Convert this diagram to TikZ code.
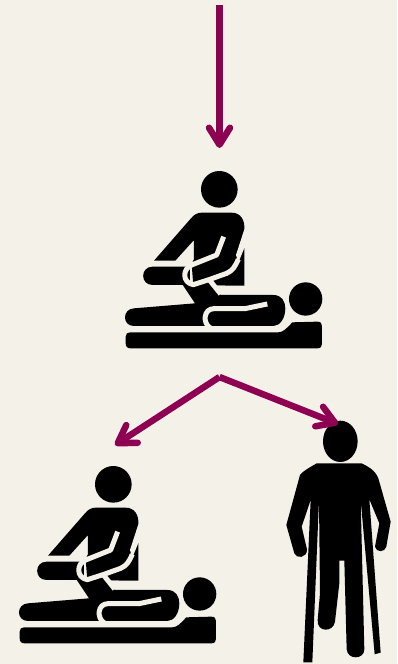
\documentclass[tikz,border=0pt]{standalone}
\usetikzlibrary{arrows.meta}
\definecolor{bgcol}{HTML}{F4F1E9}
\definecolor{arrowcol}{HTML}{8E0152}
\tikzset{
  flow/.style={draw=arrowcol,line width=6.5pt,line join=round,-{Straight Barb[length=17pt,width=21pt,line width=6.5pt,round]}},
  ink/.style={fill=black,draw=none},
  gap/.style={draw=bgcol,line width=5pt,line join=round},
  therapist/.pic={
    \begin{scope}[x=0.3333pt,y=-0.3333pt]
      % head
      \fill (328,88) circle[radius=55];
      % therapist body with the notch under the left arm
      \path[ink] (132,302) -- (243,175) .. controls (252,164) and (262,158) .. (275,158)
        -- (365,158) .. controls (392,158) and (405,180) .. (403,208)
        -- (403,377) -- (250,377) -- (245,312) -- (252,297) -- (252,240) -- (196,302) -- cycle;
      % space between the upper arm and the block behind it
      \path[fill=bgcol] (403,208) -- (378,285) -- (385,308) -- (403,264) -- (410,264) -- (410,208) -- cycle;
      % forearm bar
      \path[ink] (128,320) -- (240,320) -- (240,375) -- (128,375)
        .. controls (90,375) and (90,320) .. (128,320) -- cycle;
      % patient
      \path[ink] (72,445) -- (255,430) -- (215,370) -- (300,365) -- (332,405) -- (490,405)
        .. controls (516,405) and (526,425) .. (526,445)
        .. controls (526,475) and (510,498) .. (490,498) -- (72,498)
        .. controls (36,498) and (36,447) .. (72,445) -- cycle;
      % gap round the therapist forearm
      \draw[gap] (341,230) -- (320,285) -- (245,315) .. controls (218,325) and (215,368) .. (250,374)
        -- (300,358) -- (350,340) .. controls (368,332) and (375,320) .. (385,298);
      \draw[gap] (300,362) -- (332,402);
      \path[fill=bgcol] (305,368) -- (318,377) -- (345,377) -- (345,402) -- (332,402) -- cycle;
      % gap round the patient leg
      \draw[gap] (472,432) -- (405,446) -- (312,446) .. controls (280,446) and (278,490) .. (300,503);
      % table
      \path[ink] (60,517) -- (505,517) .. controls (520,517) and (530,505) .. (547,487)
        -- (622,485) .. controls (632,485) and (636,490) .. (636,498)
        -- (636,552) .. controls (636,560) and (632,565) .. (622,565)
        -- (62,565) .. controls (52,565) and (47,560) .. (47,550)
        -- (47,530) .. controls (47,522) and (52,517) .. (60,517) -- cycle;
      % patient head
      \fill (587,417) circle[radius=50];
    \end{scope}
  },
  crutchman/.pic={
    \begin{scope}[x=0.3333pt,y=-0.3333pt]
      \fill (211,94) ellipse[x radius=52,y radius=62];
      \path[ink] (140,160) -- (275,160) .. controls (295,170) and (315,180) .. (325,205)
        -- (362,335) -- (349,410) .. controls (345,428) and (318,428) .. (315,410)
        -- (328,340) -- (298,268) -- (332,728) -- (314,733) -- (272,270)
        -- (283,718) .. controls (283,750) and (232,750) .. (230,718)
        -- (223,452) -- (208,452) -- (208,520) -- (195,635)
        .. controls (190,668) and (140,668) .. (143,630)
        -- (150,550) -- (147,270) -- (127,757) -- (100,757) -- (122,270) -- (95,350)
        -- (111,418) .. controls (112,445) and (78,447) .. (73,430)
        -- (49,345) -- (90,195) .. controls (100,182) and (120,172) .. (140,160) -- cycle;
    \end{scope}
  }
}
\begin{document}
\begin{tikzpicture}[x=1pt,y=-1pt]
  \fill[bgcol] (0,0) rectangle (397,664);
  \useasboundingbox (0,0) rectangle (397,664);
  \pic (upper) at (110,160) {therapist};
  \pic (lower) at (4,455) {therapist};
  \pic (man) at (270,410) {crutchman};
  \coordinate (topstart) at (219.5,5);
  \coordinate (topend) at (219.5,148);
  \coordinate (fork) at (219.5,377);
  \coordinate (leftend) at (115,445);
  \coordinate (rightend) at (338,424);
  \draw[flow] (topstart) -- (topend);
  \draw[flow] (fork) -- (leftend);
  \draw[flow] (fork) -- (rightend);
\end{tikzpicture}
\end{document}
